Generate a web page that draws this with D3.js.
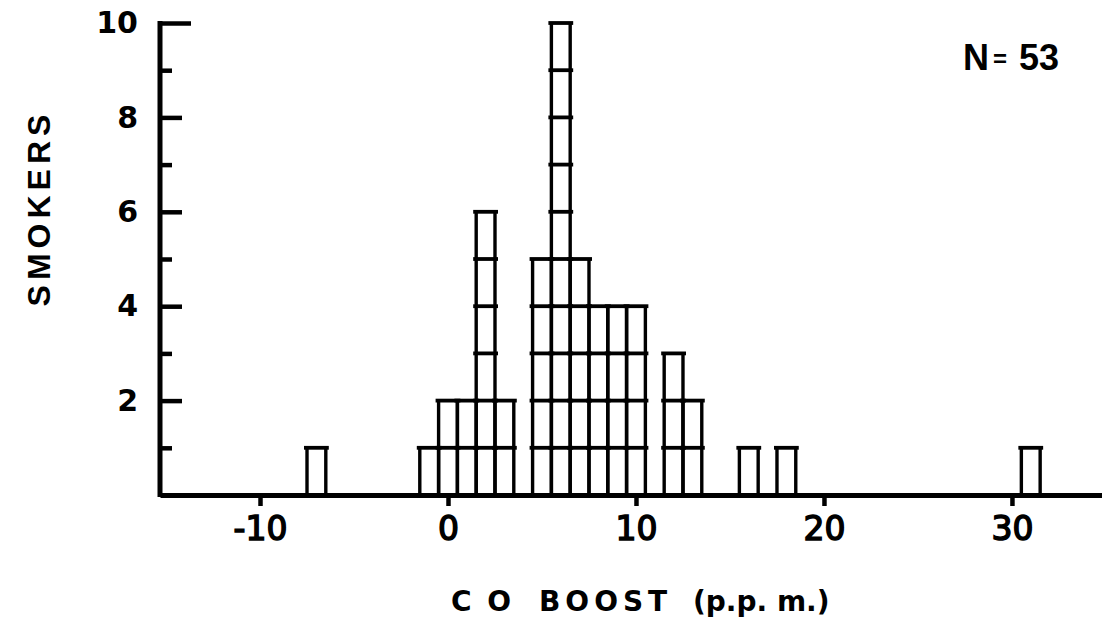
<!DOCTYPE html>
<html>
<head>
<meta charset="utf-8">
<script src="https://cdn.jsdelivr.net/npm/d3@7"></script>
<style>
  html, body { margin: 0; padding: 0; background: #fff; }
  svg { display: block; }
</style>
</head>
<body>
<svg id="chart" width="1102" height="622"></svg>
<script>
// Histogram of CO boost (p.p.m.) among smokers, one bin per p.p.m.
const binCenters = [-7, -1, 0, 1, 2, 3, 5, 6, 7, 8, 9, 10, 12, 13, 16, 18, 31];
const binCounts  = [ 1,  1, 2, 2, 6, 2, 5, 10, 5, 4, 4, 4, 3, 2, 1, 1, 1];
const xTickValues = [-10, 0, 10, 20, 30];
const yMajorTicks = [2, 4, 6, 8, 10];
const yMinorTicks = [1, 3, 5, 7, 9];
const sampleLabel = "53";

const svg = d3.select("#chart");
const ink = "#000";

const x = d3.scaleLinear().domain([-15.32, 34.79]).range([160, 1102]);
const y = d3.scaleLinear().domain([0, 10]).range([495, 23]);

// ---- stacked unit cells for each bin ----
const bars = svg.append("g").attr("class", "bars");
binCenters.forEach((c, i) => {
  const n = binCounts[i];
  const x0 = x(c - 0.5), x1 = x(c + 0.5);
  const g = bars.append("g");
  // bin edges
  g.selectAll("line.v").data([x0, x1]).join("line")
    .attr("x1", d => d).attr("x2", d => d)
    .attr("y1", y(0)).attr("y2", y(n))
    .attr("stroke", ink).attr("stroke-width", 3.4);
  // one horizontal bar per counted smoker
  g.selectAll("line.h").data(d3.range(1, n + 1)).join("line")
    .attr("x1", x0 - 3).attr("x2", x1 + 3)
    .attr("y1", d => y(d)).attr("y2", d => y(d))
    .attr("stroke", ink).attr("stroke-width", 3.8);
});

// ---- x axis ----
const xAxis = svg.append("g")
  .attr("transform", `translate(0,${y(0)})`)
  .call(d3.axisBottom(x).tickValues(xTickValues).tickSizeInner(11).tickSizeOuter(0).tickFormat(d3.format("d")));
xAxis.select(".domain").attr("stroke", ink).attr("stroke-width", 5);
xAxis.selectAll(".tick line").attr("stroke", ink).attr("stroke-width", 4.5);
xAxis.selectAll(".tick text")
  .attr("y", 45).attr("dy", 0)
  .attr("fill", ink)
  .style("font-family", "'DejaVu Sans', sans-serif")
  .style("font-size", "33px")
  .style("font-weight", "normal")
  .attr("stroke", ink).attr("stroke-width", 1.5)
  .text(d => d < 0 ? "-" + Math.abs(d) : d);

// ---- y axis ----
const yAxis = svg.append("g")
  .attr("transform", `translate(${x.range()[0]},0)`)
  .call(d3.axisLeft(y).tickValues(yMajorTicks).tickSizeInner(-22).tickSizeOuter(0).tickPadding(22));
yAxis.select(".domain").attr("stroke", ink).attr("stroke-width", 5)
  .attr("d", `M0,${y(10) - 2}V${y(0) + 2}`);
yAxis.selectAll(".tick line").attr("stroke", ink).attr("stroke-width", 4.5)
  .attr("x2", d => d === 10 ? 31 : 22);
yAxis.selectAll(".tick text")
  .attr("fill", ink)
  .style("font-family", "'DejaVu Sans', sans-serif")
  .style("font-size", "30px")
  .style("font-weight", "bold");

const yMinor = svg.append("g")
  .attr("transform", `translate(${x.range()[0]},0)`)
  .call(d3.axisLeft(y).tickValues(yMinorTicks).tickSizeInner(-12).tickSizeOuter(0).tickFormat(""));
yMinor.select(".domain").remove();
yMinor.selectAll(".tick line").attr("stroke", ink).attr("stroke-width", 4.5);

// ---- axis titles ----
svg.append("text")
  .attr("transform", "translate(50,208) rotate(-90)")
  .attr("text-anchor", "middle")
  .style("font-family", "'Liberation Sans', Arial, sans-serif")
  .style("font-size", "32px")
  .style("font-weight", "bold")
  .style("letter-spacing", "5px")
  .attr("fill", ink)
  .text("SMOKERS");

const titleFont = "'DejaVu Sans', sans-serif";
const titleParts = [
  { text: "C O", x: 451, spacing: 3 },
  { text: "BOOST", x: 539, spacing: 5 },
  { text: "(p.p. m.)", x: 693, spacing: 0 }
];
svg.append("g").selectAll("text").data(titleParts).join("text")
  .attr("x", d => d.x).attr("y", 611)
  .style("font-family", titleFont)
  .style("font-size", "28px")
  .style("font-weight", "bold")
  .style("letter-spacing", d => d.spacing + "px")
  .style("white-space", "pre")
  .attr("fill", ink)
  .text(d => d.text);

// ---- sample size ----
const nLabel = svg.append("text")
  .attr("x", 963).attr("y", 70)
  .style("font-family", "'Liberation Sans', Arial, sans-serif")
  .style("font-weight", "bold")
  .attr("fill", ink);
nLabel.append("tspan").style("font-size", "36px").text("N");
nLabel.append("tspan").style("font-size", "24px").attr("dx", 4).attr("dy", -3).text("=");
nLabel.append("tspan").style("font-size", "36px").attr("dx", 12).attr("dy", 3).text(sampleLabel);
</script>
</body>
</html>
